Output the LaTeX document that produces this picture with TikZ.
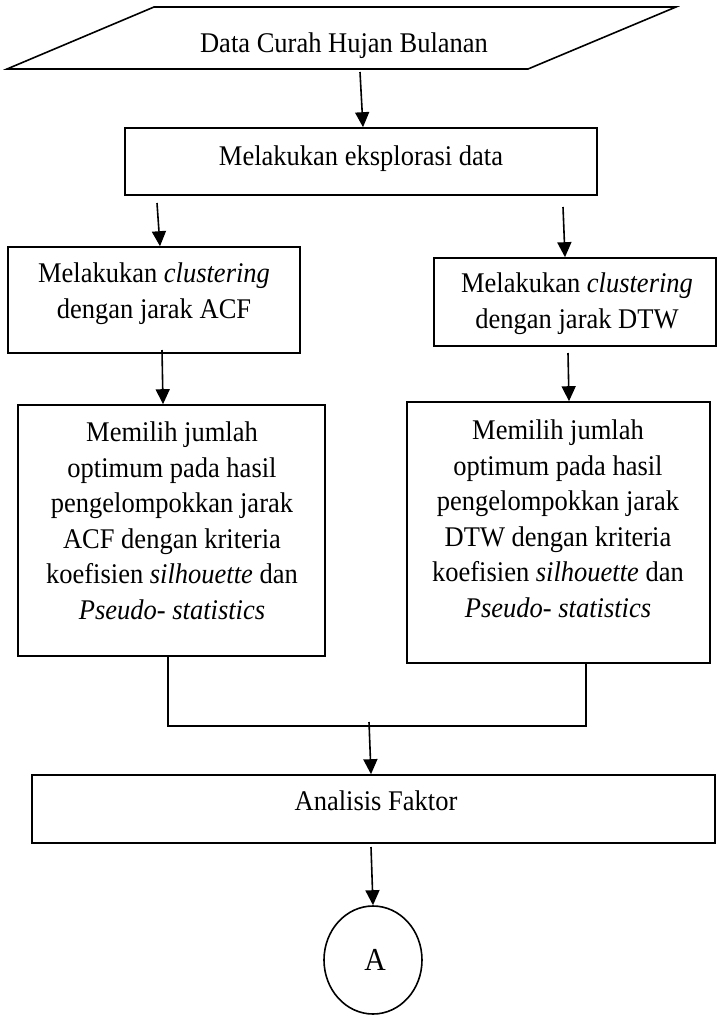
\documentclass[tikz,border=0pt]{standalone}
\usepackage{fontspec}
\setmainfont{Liberation Serif}[FakeStretch=0.93]
\usetikzlibrary{arrows.meta,shapes.geometric}
\begin{document}
\begin{tikzpicture}[x=1pt,y=-1pt,
  line width=1.6pt,
  every node/.style={font=\fontsize{28.5}{35.5}\selectfont},
  boxshape/.style={draw,rectangle,inner sep=0pt},
  txt/.style={inner sep=0pt,anchor=base,align=center},
  arr/.style={-{Triangle[length=15pt,width=14pt]}},
  link/.style={line cap=rect}]
\useasboundingbox (0,0) rectangle (718,1015);
% input parallelogram
\coordinate (pa) at (154,7);
\coordinate (pb) at (676,7);
\coordinate (pc) at (528,69);
\coordinate (pd) at (7,69);
\draw[line join=miter] (pa) -- (pb) -- (pc) -- (pd) -- cycle;
\node[txt] (data) at (344,52) {Data Curah Hujan Bulanan};
% boxes
\node[boxshape,minimum width=472pt,minimum height=67pt] (box1) at (361,161.5) {};
\node[txt] (box1t) at (361,165) {Melakukan eksplorasi data};
\node[boxshape,minimum width=292pt,minimum height=106pt] (acf1) at (154,300) {};
\node[txt] (acf1t) at (154,318) {Melakukan \textit{clustering}\\dengan jarak ACF};
\node[boxshape,minimum width=282pt,minimum height=88pt] (dtw1) at (575,302) {};
\node[txt] (dtw1t) at (577,328) {Melakukan \textit{clustering}\\dengan jarak DTW};
\node[boxshape,minimum width=307pt,minimum height=251pt] (acf2) at (171.5,530.5) {};
\node[txt] (acf2t) at (172,619) {Memilih jumlah\\optimum pada hasil\\pengelompokkan jarak\\ACF dengan kriteria\\koefisien \textit{silhouette} dan\\\textit{Pseudo- statistics}};
\node[boxshape,minimum width=303pt,minimum height=261pt] (dtw2) at (558.5,532.5) {};
\node[txt] (dtw2t) at (558,617) {Memilih jumlah\\optimum pada hasil\\pengelompokkan jarak\\DTW dengan kriteria\\koefisien \textit{silhouette} dan\\\textit{Pseudo- statistics}};
\node[boxshape,minimum width=683pt,minimum height=68pt] (af) at (373.5,809) {};
\node[txt] (aft) at (376,810) {Analisis Faktor};
\node[draw,ellipse,minimum width=98pt,minimum height=108pt,inner sep=0pt] (A) at (373,960) {};
\node[txt,font=\fontsize{32}{36}\selectfont] (At) at (375,970) {A};
% arrow start / end helper coordinates
\coordinate (s1) at (360,72);   \coordinate (e1) at (363,0);
\coordinate (s2) at (157,203);  \coordinate (e2) at (160,0);
\coordinate (s3) at (563,207);  \coordinate (e3) at (565,0);
\coordinate (s4) at (162,350);  \coordinate (e4) at (163,0);
\coordinate (s5) at (568,353);  \coordinate (e5) at (569,0);
\coordinate (s7) at (369,722);  \coordinate (e7) at (371,0);
\coordinate (s8) at (371,847);  \coordinate (e8) at (373,0);
\coordinate (j1) at (168,726);
\coordinate (j2) at (586,726);
% connectors
\draw[arr] (s1) -- (box1.north -| e1);
\draw[arr] (s2) -- (acf1.north -| e2);
\draw[arr] (s3) -- (dtw1.north -| e3);
\draw[arr] (s4) -- (acf2.north -| e4);
\draw[arr] (s5) -- (dtw2.north -| e5);
\draw (acf2.south -| j1) -- (j1) -- (j2) -- (dtw2.south -| j2);
\draw[arr] (s7) -- (af.north -| e7);
\draw[arr] (s8) -- (A.north -| e8);
\end{tikzpicture}
\end{document}
